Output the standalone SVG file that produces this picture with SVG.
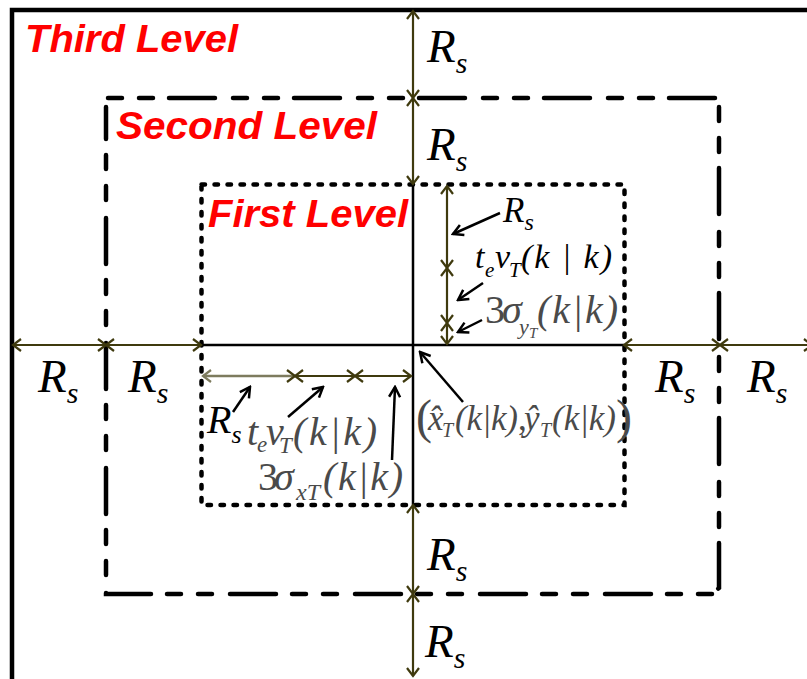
<svg xmlns="http://www.w3.org/2000/svg" width="807" height="679" viewBox="0 0 807 679">
<style>
.lvl{font-family:"Liberation Sans",Arial,sans-serif;font-weight:bold;font-style:italic;fill:#ff0000}
.m{font-family:"Liberation Serif","Times New Roman",serif;font-style:italic;fill:#000}
.g{fill:#4a4a4a}
.up{font-style:normal}
.ol{stroke:#3f3a0e;stroke-width:2.2;fill:none}
.ptr{stroke:#000;stroke-width:2.5;fill:none}
</style>
<defs>
<marker id="oa" viewBox="-11 -8 13 16" refX="0" refY="0" markerWidth="13" markerHeight="16" markerUnits="userSpaceOnUse" orient="auto-start-reverse">
<path d="M-8,-6 L0,0 L-8,6" fill="none" stroke="#3f3a0e" stroke-width="2.2"/>
</marker>
<marker id="ga" viewBox="-11 -8 13 16" refX="0" refY="0" markerWidth="13" markerHeight="16" markerUnits="userSpaceOnUse" orient="auto-start-reverse">
<path d="M-8,-6 L0,0 L-8,6" fill="none" stroke="#7d7b5e" stroke-width="2.2"/>
</marker>
<marker id="ba" viewBox="-12 -8 14 16" refX="0" refY="0" markerWidth="14" markerHeight="16" markerUnits="userSpaceOnUse" orient="auto">
<path d="M-10,-5.5 L0,0 L-10,5.5" fill="none" stroke="#000" stroke-width="2.5"/>
</marker>
</defs>

<g id="third-level">
<path d="M12,679 L12,10 L807,10" fill="none" stroke="#000" stroke-width="4.5"/>
<text class="lvl" x="25" y="52" font-size="39" textLength="213" lengthAdjust="spacingAndGlyphs">Third Level</text>
</g>

<g id="second-level">
<path d="M108,98 L719,98 M719,107 L719,588 L712,594 M712,594 L106,594 L106,107" fill="none" stroke="#000" stroke-width="4.5" stroke-linecap="round" stroke-dasharray="14 17 14 16 46 18"/>
<text class="lvl" x="116" y="139" font-size="38" textLength="261" lengthAdjust="spacingAndGlyphs">Second Level</text>
</g>

<g id="first-level">
<rect x="201.5" y="184.5" width="423" height="320.5" fill="none" stroke="#000" stroke-width="4.5" stroke-linecap="round" stroke-dasharray="3.5 9.5"/>
<text class="lvl" x="208" y="227" font-size="38" textLength="200" lengthAdjust="spacingAndGlyphs">First Level</text>
</g>

<g id="axes">
<line x1="413" y1="184" x2="413" y2="505" stroke="#000" stroke-width="2.5"/>
<line x1="202" y1="345" x2="624" y2="345" stroke="#000" stroke-width="2.5"/>
</g>

<g id="connectors">
<line class="ol" x1="413" y1="11" x2="413" y2="98" marker-start="url(#oa)" marker-end="url(#oa)"/>
<line class="ol" x1="413" y1="98" x2="413" y2="184" marker-start="url(#oa)" marker-end="url(#oa)"/>
<line class="ol" x1="413" y1="505" x2="413" y2="594" marker-start="url(#oa)" marker-end="url(#oa)"/>
<line class="ol" x1="413" y1="594" x2="413" y2="676" marker-start="url(#oa)" marker-end="url(#oa)"/>
<line class="ol" x1="13" y1="345" x2="106" y2="345" marker-start="url(#oa)" marker-end="url(#oa)"/>
<line class="ol" x1="106" y1="345" x2="201" y2="345" marker-start="url(#oa)" marker-end="url(#oa)"/>
<line class="ol" x1="624" y1="345" x2="720" y2="345" marker-start="url(#oa)" marker-end="url(#oa)"/>
<line class="ol" x1="720" y1="345" x2="812" y2="345" marker-start="url(#oa)" marker-end="url(#oa)"/>
<line class="ol" x1="447" y1="186" x2="447" y2="268" marker-start="url(#oa)" marker-end="url(#oa)"/>
<line class="ol" x1="447" y1="268" x2="447" y2="323" marker-start="url(#oa)" marker-end="url(#oa)"/>
<line class="ol" x1="447" y1="323" x2="447" y2="344" marker-start="url(#oa)" marker-end="url(#oa)"/>
<line x1="203" y1="376" x2="295" y2="376" stroke="#7d7b5e" stroke-width="2.6" marker-start="url(#ga)" marker-end="url(#oa)"/>
<line class="ol" x1="295" y1="376" x2="355" y2="376" marker-start="url(#oa)" marker-end="url(#oa)"/>
<line class="ol" x1="355" y1="376" x2="411" y2="376" marker-start="url(#oa)" marker-end="url(#oa)"/>
<line class="ptr" x1="500" y1="213" x2="453" y2="234" marker-end="url(#ba)"/>
<line class="ptr" x1="483" y1="283" x2="458" y2="300" marker-end="url(#ba)"/>
<line class="ptr" x1="482" y1="320" x2="458" y2="332" marker-end="url(#ba)"/>
<line class="ptr" x1="233" y1="412" x2="250" y2="387" marker-end="url(#ba)"/>
<line class="ptr" x1="288" y1="417" x2="323" y2="387" marker-end="url(#ba)"/>
<line class="ptr" x1="392" y1="460" x2="395" y2="387" marker-end="url(#ba)"/>
<line class="ptr" x1="463" y1="402" x2="420" y2="352" marker-end="url(#ba)"/>
</g>

<g id="range-labels">
<text class="m" x="427" y="62" font-size="47">R<tspan font-size="30" dy="11">s</tspan></text>
<text class="m" x="427" y="160" font-size="47">R<tspan font-size="30" dy="11">s</tspan></text>
<text class="m" x="427" y="570" font-size="47">R<tspan font-size="30" dy="11">s</tspan></text>
<text class="m" x="425" y="657" font-size="47">R<tspan font-size="30" dy="11">s</tspan></text>
<text class="m" x="38" y="392" font-size="47">R<tspan font-size="30" dy="11">s</tspan></text>
<text class="m" x="128" y="392" font-size="47">R<tspan font-size="30" dy="11">s</tspan></text>
<text class="m" x="655" y="392" font-size="47">R<tspan font-size="30" dy="11">s</tspan></text>
<text class="m" x="747" y="392" font-size="47">R<tspan font-size="30" dy="11">s</tspan></text>
</g>

<g id="first-level-labels">
<text class="m" x="503" y="222" font-size="35">R<tspan font-size="24" dy="8">s</tspan></text>
<text class="m" font-size="34"><tspan x="475" y="268">t</tspan><tspan x="485" y="277" font-size="21">e</tspan><tspan x="495" y="268">v</tspan><tspan x="509" y="277" font-size="21">T</tspan><tspan x="521" y="268" textLength="91" lengthAdjust="spacing">(k | k)</tspan></text>
<text class="m g" font-size="40"><tspan x="485" y="323" class="up">3</tspan><tspan x="502" y="323">σ</tspan><tspan x="519" y="334" font-size="22">y</tspan><tspan x="529" y="338" font-size="15">T</tspan><tspan x="537" y="323" textLength="81" lengthAdjust="spacing">(k|k)</tspan></text>

<text class="m" x="207" y="433" font-size="40">R<tspan font-size="26" dy="10">s</tspan></text>
<text class="m g" font-size="40"><tspan x="247" y="445">t</tspan><tspan x="257" y="452" font-size="23">e</tspan><tspan x="266" y="445">v</tspan><tspan x="279" y="453" font-size="23">T</tspan><tspan x="293" y="445" textLength="84" lengthAdjust="spacing">(k|k)</tspan></text>
<text class="m g" font-size="40"><tspan x="258" y="490" class="up">3</tspan><tspan x="274" y="490">σ</tspan><tspan x="296" y="500" font-size="24">xT</tspan><tspan x="323" y="490" textLength="80" lengthAdjust="spacing">(k|k)</tspan></text>

<text class="m g" font-size="35"><tspan x="416" y="433" font-size="48" class="up">(</tspan><tspan x="428" y="430">x̂</tspan><tspan x="442" y="437" font-size="20">T</tspan><tspan x="455" y="430" textLength="63" lengthAdjust="spacing">(k|k)</tspan><tspan x="518" y="430" class="up">,</tspan><tspan x="524" y="430">ŷ</tspan><tspan x="540" y="437" font-size="20">T</tspan><tspan x="552" y="430" textLength="64" lengthAdjust="spacing">(k|k)</tspan><tspan x="616" y="433" font-size="48" class="up">)</tspan></text>
</g>
</svg>
